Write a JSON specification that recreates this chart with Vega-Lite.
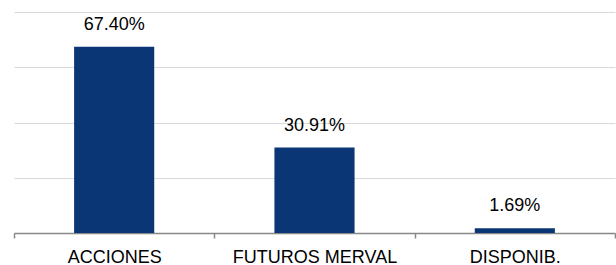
{
  "$schema": "https://vega.github.io/schema/vega-lite/v6.json",
  "width": 601,
  "height": 221,
  "autosize": {"type": "none"},
  "padding": {"left": 14, "top": 12, "right": 1, "bottom": 32},
  "background": "white",
  "config": {"view": {"stroke": null}, "font": "Liberation Sans"},
  "data": {"values": [
    {"cat": "ACCIONES", "pct": 67.40, "label": "67.40%"},
    {"cat": "FUTUROS MERVAL", "pct": 30.91, "label": "30.91%"},
    {"cat": "DISPONIB.", "pct": 1.69, "label": "1.69%"}
  ]},
  "encoding": {
    "x": {"field": "cat", "type": "nominal", "sort": null,
      "scale": {"paddingInner": 0, "paddingOuter": 0},
      "axis": {"title": null, "labelAngle": 0, "labelFont": "Liberation Sans", "labelFontSize": 18, "labelColor": "#000000",
        "domainColor": "#888888", "domainWidth": 1.5, "ticks": true, "tickColor": "#888888", "tickWidth": 1.5, "tickSize": 5,
        "tickBand": "extent", "labelPadding": 10, "grid": false}},
    "y": {"field": "pct", "type": "quantitative",
      "scale": {"domain": [0, 80], "nice": false},
      "axis": {"title": null, "labels": false, "ticks": false, "domain": false, "values": [0, 20, 40, 60, 80],
        "grid": true, "gridColor": "#d9d9d9", "gridWidth": 1}}
  },
  "layer": [
    {"mark": {"type": "bar", "color": "#0a3675", "width": {"band": 0.4}}},
    {"mark": {"type": "text", "baseline": "bottom", "dy": -13, "fontSize": 18, "font": "Liberation Sans", "color": "#000000"},
     "encoding": {"text": {"field": "label"}}}
  ]
}
